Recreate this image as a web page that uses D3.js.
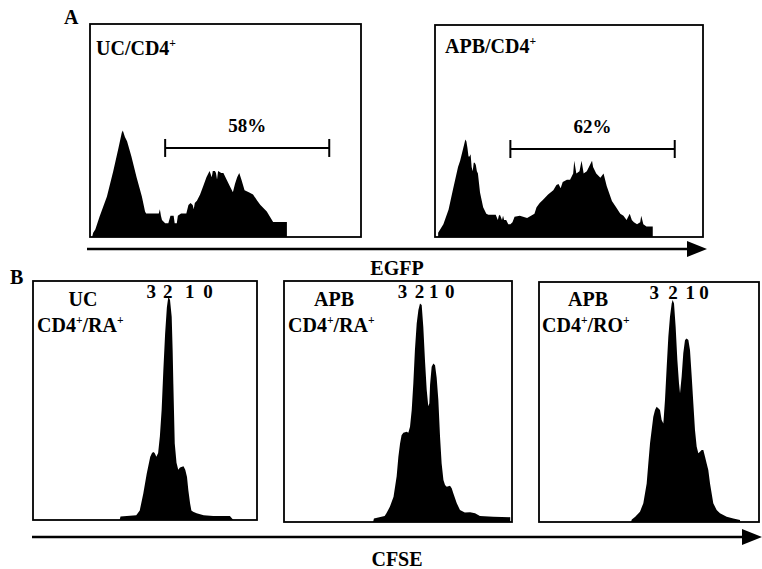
<!DOCTYPE html>
<html>
<head>
<meta charset="utf-8">
<script src="https://cdn.jsdelivr.net/npm/d3@7"></script>
<style>
  body { margin: 0; background: #fff; }
  text { font-family: "Liberation Serif", "Times New Roman", serif; font-weight: bold; fill: #000; }
</style>
</head>
<body>
<svg id="fig" width="762" height="569"></svg>
<script>
// histogram outlines, [channel, count] (channel 0-256, count as % of panel height)
const ucEgfp = [[2,0],[3,2],[5,3.5],[9,9.5],[16,19],[22,31],[27,42],[30,49],[31,50],[33,47],[35,45],[39,38],[44,28],[49,19],[52,12],[53,11],[65,11],[66,13],[67,10],[68,8],[71,6.5],[74,6.5],[76,10],[79,10],[80,6.5],[82,6.5],[83,10],[86,11],[91,11],[93,15],[95,16],[97,15],[98,13],[99,16],[101,17],[104,20],[107,24],[110,28],[112,30],[113,31],[115,28],[116,31],[118,31],[119,30],[120,27],[121,31],[124,30],[126,30],[129,27],[132,24],[135,21],[137,25],[139,28],[141,30],[143,27],[146,22],[150,21],[154,20],[158,17],[161,15],[167,12],[173,7],[186,7],[186,0]];
const apbEgfp = [[3,0],[3,2],[8,6],[13,13],[17,22],[22,33],[24,36],[26,40],[27,42],[29,46],[30,45],[31,42],[32,38],[33,38],[34,39],[35,33],[36,31],[37,35],[38,35],[39,34],[40,31],[41,30],[43,21],[46,14],[49,11],[51,10.5],[58,10.5],[60,8],[61,10],[62,10.5],[64,8],[65,10],[66,8],[68,8],[70,6],[72,6],[74,7],[76,9.5],[81,10],[88,9],[95,11],[97,14],[100,16],[103,17.5],[108,20],[113,22],[116,24.5],[118,25],[120,23],[122,26],[126,27],[129,27],[132,30],[133,36],[135,30],[138,31],[140,36],[142,30],[145,31],[148,34],[150,36],[151,33],[154,30],[158,28],[161,30],[164,24],[169,17],[173,14],[177,11],[180,10],[183,8],[186,11],[188,8],[190,7],[193,6],[196,7],[197,10],[199,6],[202,5],[208,5],[208,0]];
const ucRaCfse = [[99,0],[100,1.5],[118,2],[122,4],[126,11],[130,19.5],[134,26.5],[136,28],[137.5,28.5],[139,28],[141,26.5],[143,28],[145,35],[147,46],[149,63],[151,78],[153,89],[154.7,93.5],[156.6,92],[158.5,85],[159.6,71],[160.4,57],[162,32],[164,24],[166,21],[168,22],[172,22.5],[174,21],[176,18],[177.5,12.6],[179.5,7],[181,4],[183,3.5],[187,2.8],[195,2],[206,1.7],[225,1.7],[229,0]];
const apbRaCfse = [[100,0],[101,1.5],[113,2.5],[115,3.6],[119,6.4],[123,10.5],[126.5,19],[128.4,27],[130.3,32.6],[132,36],[134,37],[137.8,37.5],[139.6,37],[141.5,39.5],[143.4,46.5],[145.2,57.5],[147,71.4],[149,82.4],[150.9,88],[152.7,90.7],[154.6,90],[156.4,81],[158.3,67],[160.2,55],[162,48],[163.2,49.3],[164,57],[165.8,64.4],[167.7,65.8],[169.6,65],[171.4,60],[173.3,50.6],[175.2,35.4],[177,24.3],[179,17.4],[180.8,15.4],[182.7,14.6],[186.4,15],[188.3,14],[190,12],[194,7.8],[197.6,5],[203,3.9],[209,4],[214.5,3.6],[220,2.5],[235,2.2],[254,2],[254,0]];
const apbRoCfse = [[107,0],[108,1],[112,2.2],[117.5,4.3],[121.4,7.8],[125.3,16],[127.2,24.4],[129.2,32.8],[131.1,38.3],[133,43.9],[135,46.7],[136.9,48],[138.8,47.4],[140.8,46.7],[142.7,42.5],[144.7,41],[146.6,50.8],[148.6,64.7],[150.5,77.2],[152.4,85.5],[154.4,91],[155.5,92.5],[157.1,91],[159,81.4],[161,67.5],[162.9,57.8],[164.1,53.6],[166,60.6],[167.9,70.3],[169.9,75.8],[171.8,76.5],[173.8,75.8],[175.7,71.7],[177.7,60.6],[179.6,49.4],[181.5,38.3],[183.5,31.4],[185.4,28.6],[187.3,29.3],[189.3,30],[191.2,30],[193.2,27.2],[195.1,24.4],[197,21.7],[199,16],[202.8,7.8],[206.7,5],[210.6,3.6],[218.4,2.2],[226.1,1.5],[233.9,0.8],[234,0]];

// EGFP+ gates: [start channel, end channel, level]
const egfpGates = [[71, 226, 41.8], [72, 229, 41.5]];
const egfpPercents = ["58%", "62%"];

// division numbers over the CFSE peaks and where they sit (channel)
const generations = ["3", "2", "1", "0"];
const ucRaGenPos = [135, 154, 179, 200];
const apbRaGenPos = [133, 152, 168, 186];
const apbRoGenPos = [134, 156, 176, 192];

const svg = d3.select("#fig");

// text with "+" superscripts: parts = [[string, isSup], ...]
function addLabel(g, parts, x, y, size, anchor) {
  const t = g.append("text")
    .attr("x", x)
    .attr("y", y)
    .attr("font-size", size)
    .attr("text-anchor", anchor || "start");
  let raised = false;
  parts.forEach(([s, sup]) => {
    const ts = t.append("tspan").text(s);
    if (sup) {
      ts.attr("dy", -size * 0.38).attr("font-size", size * 0.58);
      raised = true;
    } else if (raised) {
      ts.attr("dy", size * 0.38);
      raised = false;
    }
  });
  return t;
}

function drawPanel(p) {
  const x = d3.scaleLinear().domain([0, 256]).range([p.left, p.right]);
  const y = d3.scaleLinear().domain([0, 100]).range([p.bottom, p.top]);
  const g = svg.append("g");

  const area = d3.area()
    .x((d) => x(d[0]))
    .y0(y(0))
    .y1((d) => y(d[1]));

  g.append("path")
    .datum(p.data)
    .attr("d", area)
    .attr("fill", "#000");

  g.append("rect")
    .attr("x", p.left)
    .attr("y", p.top)
    .attr("width", p.right - p.left)
    .attr("height", p.bottom - p.top)
    .attr("fill", "none")
    .attr("stroke", "#000")
    .attr("stroke-width", 1.8);

  p.labels.forEach((l) => addLabel(g, l.parts, l.x, l.y, l.size, l.anchor));

  if (p.gate) {
    const [a, b, lv] = p.gate;
    g.append("line")
      .attr("x1", x(a)).attr("x2", x(b))
      .attr("y1", y(lv)).attr("y2", y(lv))
      .attr("stroke", "#000").attr("stroke-width", 2);
    [a, b].forEach((c) => {
      g.append("line")
        .attr("x1", x(c)).attr("x2", x(c))
        .attr("y1", y(lv) - 9).attr("y2", y(lv) + 9)
        .attr("stroke", "#000").attr("stroke-width", 2);
    });
    g.append("text")
      .attr("x", x((a + b) / 2))
      .attr("y", y(lv) - 16)
      .attr("text-anchor", "middle")
      .attr("font-size", 19)
      .text(p.percent);
  }

  if (p.gens) {
    g.selectAll(".gen")
      .data(generations)
      .join("text")
      .attr("class", "gen")
      .attr("x", (d, i) => x(p.gens[i]))
      .attr("y", p.top + 17)
      .attr("text-anchor", "middle")
      .attr("font-size", 19)
      .text((d) => d);
  }
}

function drawArrow(x1, x2, yy, label, labelY) {
  svg.append("line")
    .attr("x1", x1).attr("x2", x2 - 18)
    .attr("y1", yy).attr("y2", yy)
    .attr("stroke", "#000").attr("stroke-width", 2.5);
  svg.append("path")
    .attr("d", `M${x2 - 20},${yy - 8}L${x2},${yy}L${x2 - 20},${yy + 8}Z`)
    .attr("fill", "#000");
  svg.append("text")
    .attr("x", (x1 + x2) / 2)
    .attr("y", labelY)
    .attr("text-anchor", "middle")
    .attr("font-size", 20)
    .text(label);
}

// panel A
drawPanel({
  left: 90, right: 361, top: 24, bottom: 237,
  data: ucEgfp, gate: egfpGates[0], percent: egfpPercents[0],
  labels: [{ parts: [["UC/CD4"], ["+", true]], x: 96, y: 55, size: 20 }],
});
drawPanel({
  left: 435, right: 703, top: 25, bottom: 237,
  data: apbEgfp, gate: egfpGates[1], percent: egfpPercents[1],
  labels: [{ parts: [["APB/CD4"], ["+", true]], x: 445, y: 53, size: 20 }],
});
drawArrow(87, 707, 249, "EGFP", 275);

// panel B
drawPanel({
  left: 33, right: 257, top: 281, bottom: 520,
  data: ucRaCfse, gens: ucRaGenPos,
  labels: [
    { parts: [["UC"]], x: 83, y: 306, size: 20, anchor: "middle" },
    { parts: [["CD4"], ["+", true], ["/RA"], ["+", true]], x: 37, y: 332, size: 20 },
  ],
});
drawPanel({
  left: 284, right: 512, top: 281, bottom: 522,
  data: apbRaCfse, gens: apbRaGenPos,
  labels: [
    { parts: [["APB"]], x: 334, y: 306, size: 20, anchor: "middle" },
    { parts: [["CD4"], ["+", true], ["/RA"], ["+", true]], x: 288, y: 332, size: 20 },
  ],
});
drawPanel({
  left: 539, right: 759, top: 282, bottom: 522,
  data: apbRoCfse, gens: apbRoGenPos,
  labels: [
    { parts: [["APB"]], x: 588, y: 306, size: 20, anchor: "middle" },
    { parts: [["CD4"], ["+", true], ["/RO"], ["+", true]], x: 542, y: 332, size: 20 },
  ],
});
drawArrow(32, 762, 537, "CFSE", 566);

svg.append("text").attr("x", 64).attr("y", 24).attr("font-size", 20).text("A");
svg.append("text").attr("x", 10).attr("y", 284).attr("font-size", 20).text("B");
</script>
</body>
</html>
